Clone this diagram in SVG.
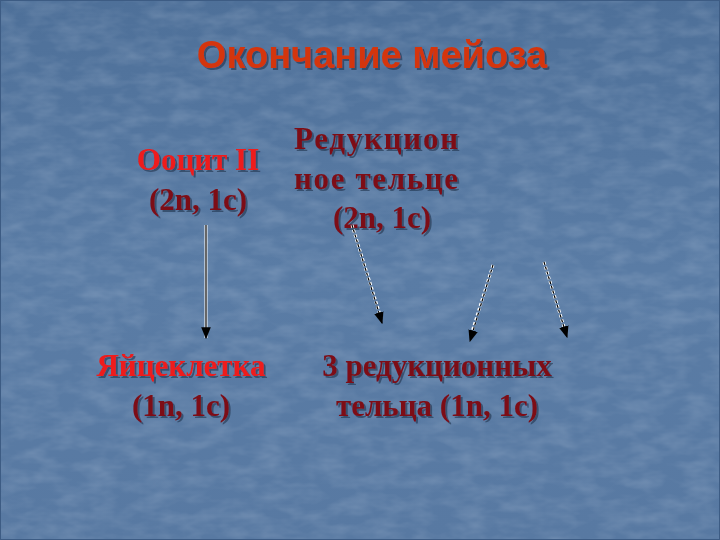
<svg xmlns="http://www.w3.org/2000/svg" width="720" height="540" viewBox="0 0 720 540">
<defs>
<linearGradient id="bg" x1="0" y1="0" x2="0" y2="1">
<stop offset="0" stop-color="#4e7099"/>
<stop offset="0.5" stop-color="#5a7ca5"/>
<stop offset="1" stop-color="#5879a2"/>
</linearGradient>
<filter id="tex" x="0" y="0" width="100%" height="100%">
<feTurbulence type="fractalNoise" baseFrequency="0.035 0.08" numOctaves="3" seed="7" result="n"/>
<feColorMatrix in="n" type="matrix" values="0 0 0 0 0.8  0 0 0 0 0.86  0 0 0 0 0.95  0 0 0 0.28 -0.1"/>
</filter>
<filter id="sh" x="-5%" y="-20%" width="110%" height="150%">
<feOffset in="SourceAlpha" dx="1.5" dy="1.5" result="o"/>
<feFlood flood-color="#22324c" flood-opacity="0.6"/>
<feComposite in2="o" operator="in" result="s"/>
<feMerge><feMergeNode in="s"/><feMergeNode in="SourceGraphic"/></feMerge>
</filter>
<marker id="ahb" viewBox="0 0 10 10" refX="9" refY="5" markerWidth="12" markerHeight="12" orient="auto" markerUnits="userSpaceOnUse">
<path d="M0,1 L10,5 L0,9 z" fill="#000"/>
</marker>
<style>
.title{font-family:"Liberation Sans",Arial,sans-serif;font-weight:bold;font-size:38px;fill:#d4360e;text-anchor:middle;filter:url(#sh)}
.t{font-family:"Liberation Serif","Times New Roman",serif;font-weight:bold;font-size:31px;text-anchor:middle;filter:url(#sh)}
.red{fill:#ee1a1a}
.dk{fill:#7d0c16}
.halo{stroke:#ffffff;stroke-width:3;fill:none}
.ln{stroke:#000;stroke-width:1.2;fill:none}
.dash{stroke-dasharray:3 2}
</style>
</defs>
<rect width="720" height="540" fill="url(#bg)"/>
<rect width="720" height="540" filter="url(#tex)"/>
<rect x="0" y="0" width="720" height="540" fill="none" stroke="#3d5c84" stroke-width="2"/>

<g id="title">
<text class="title" x="372" y="68">Окончание мейоза</text>
</g>

<g id="oocyte">
<text class="t red" x="198" y="170">Ооцит II</text>
<text class="t dk" x="198" y="210">(2n, 1c)</text>
</g>

<g id="polar1">
<text class="t dk" x="376" y="149" textLength="164">Редукцион</text>
<text class="t dk" x="376" y="189" textLength="164">ное тельце</text>
<text class="t dk" x="382" y="228">(2n, 1c)</text>
</g>

<g id="egg">
<text class="t red" x="181" y="376">Яйцеклетка</text>
<text class="t dk" x="181" y="416">(1n, 1c)</text>
</g>

<g id="polar3">
<text class="t dk" x="437" y="376">3 редукционных</text>
<text class="t dk" x="437" y="416">тельца (1n, 1c)</text>
</g>

<g id="connectors">
<line class="halo" x1="206" y1="225" x2="206" y2="338"/>
<line class="ln" x1="206" y1="225" x2="206" y2="338" marker-end="url(#ahb)"/>
<line class="halo dash" x1="352" y1="225" x2="381" y2="318" stroke-width="2.5"/>
<line class="ln dash" x1="352" y1="225" x2="382" y2="323" marker-end="url(#ahb)"/>
<line class="halo dash" x1="493" y1="265" x2="471" y2="335" stroke-width="2.5"/>
<line class="ln dash" x1="493" y1="265" x2="470" y2="341" marker-end="url(#ahb)"/>
<line class="halo dash" x1="544" y1="262" x2="565" y2="330" stroke-width="2.5"/>
<line class="ln dash" x1="544" y1="262" x2="567" y2="337" marker-end="url(#ahb)"/>
</g>
</svg>
